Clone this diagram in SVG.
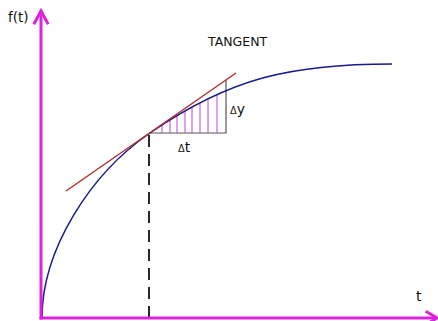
<svg xmlns="http://www.w3.org/2000/svg" width="438" height="321" viewBox="0 0 438 321">
<style>
.axis{stroke:#dd22dd;stroke-width:3;fill:none;stroke-linecap:square}
.lbl{font-family:"DejaVu Sans",sans-serif;fill:#111}
.dl{font-family:"Liberation Sans",sans-serif;font-size:10px}
.hatch{stroke:#b848d8;stroke-width:1}
.tri{stroke:#555;stroke-width:1.2;fill:none}
</style>
<rect width="438" height="321" fill="#fff"/>
<g id="connectors">
<path class="tri" d="M150,133 H226 V80"/>
<g id="hatching">
<line class="hatch" x1="162" y1="125" x2="162" y2="133"/>
<line class="hatch" x1="170" y1="120" x2="170" y2="133"/>
<line class="hatch" x1="177" y1="115.6" x2="177" y2="133"/>
<line class="hatch" x1="185" y1="111" x2="185" y2="133"/>
<line class="hatch" x1="192" y1="107" x2="192" y2="133"/>
<line class="hatch" x1="200" y1="103" x2="200" y2="133"/>
<line class="hatch" x1="208" y1="99" x2="208" y2="133"/>
<line class="hatch" x1="217" y1="95" x2="217" y2="133"/>
</g>
<line id="dashed" x1="149" y1="135" x2="149" y2="318" stroke="#111" stroke-width="1.8" stroke-dasharray="12,7"/>
<path id="curve" d="M42,318 C42,250 90,174 150,133 C230,77.8 292,64 392,64" fill="none" stroke="#1a1a8a" stroke-width="1.5"/>
<line id="tangent" x1="66" y1="191" x2="236" y2="73" stroke="#b03030" stroke-width="1.5"/>
<g id="axes">
<line class="axis" x1="41" y1="318" x2="41" y2="12"/>
<polyline class="axis" points="34.5,23 41,11 47.5,23" stroke-linejoin="miter"/>
<line class="axis" x1="41" y1="318" x2="434" y2="318"/>
<polyline class="axis" points="427,312 437,318 427,324"/>
</g>
</g>
<g id="label-ft"><text class="lbl" x="8" y="22" font-size="13.5">f(t)</text></g>
<g id="label-t"><text class="lbl" x="416" y="301" font-size="14">t</text></g>
<g id="label-tangent"><text class="lbl" x="208" y="46" font-size="12.5">TANGENT</text></g>
<g id="label-dt"><text class="lbl" x="178" y="152" font-size="14"><tspan class="dl">Δ</tspan>t</text></g>
<g id="label-dy"><text class="lbl" x="230" y="114" font-size="14"><tspan class="dl">Δ</tspan>y</text></g>
</svg>
